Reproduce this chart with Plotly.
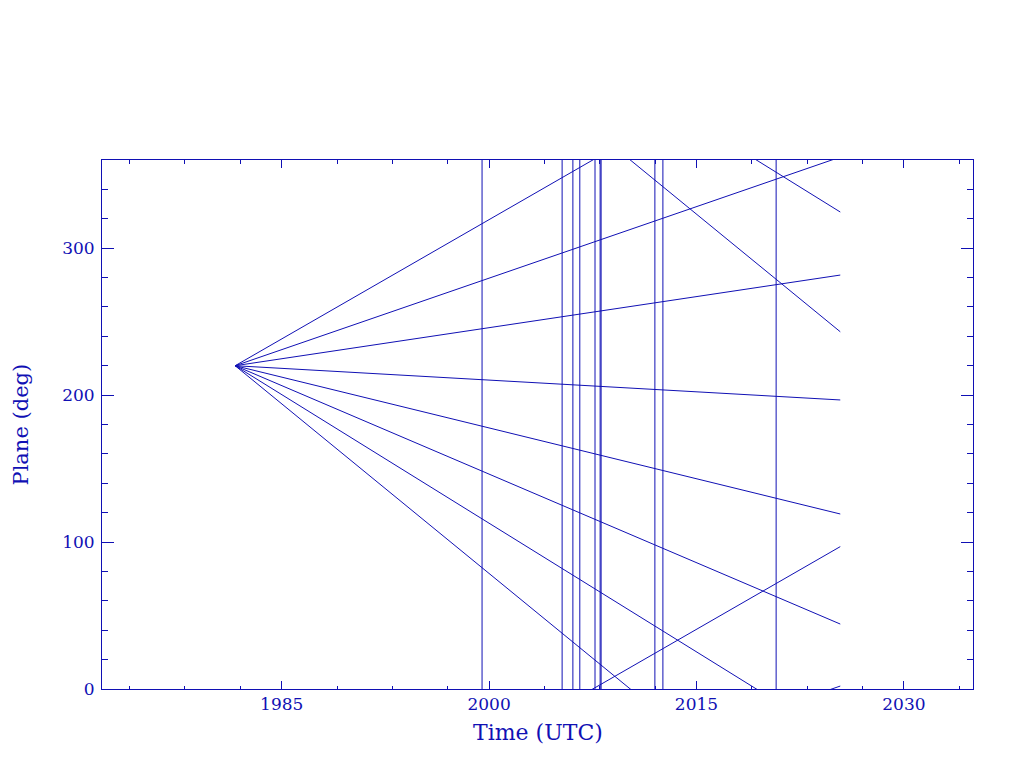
import plotly.graph_objects as go

# ---- data ----
start_year = 1981.63
end_year = 2025.40
start_plane = 220.0
# unwrapped plane angle (deg) of each track at end_year
end_planes = [456.9, 362.0, 281.7, 196.7, 119.1, 44.2, -35.4, -116.9]
# event epochs drawn as vertical lines
event_years = [1999.49, 2005.28, 2006.06, 2006.56, 2007.66, 2008.03, 2008.10,
               2011.99, 2012.57, 2020.76]
x_major = [1985, 2000, 2015, 2030]
x_minor = [1974, 1978, 1982, 1989, 1993, 1997, 2004, 2008, 2012, 2019, 2023, 2027, 2034]
x_range = [1972, 2035]
y_range = [0, 360]

COL = "#1010b4"
FONT = "DejaVu Serif"

fig = go.Figure()

# precession tracks, drawn with +-360 copies so wrap-around shows via axis clipping
xs, ys = [], []
for ep in end_planes:
    for shift in (-360, 0, 360):
        xs += [start_year, end_year, None]
        ys += [start_plane + shift, ep + shift, None]
fig.add_trace(go.Scatter(x=xs, y=ys, mode="lines",
                         line=dict(color=COL, width=1), hoverinfo="skip",
                         showlegend=False))

# vertical event lines
vx, vy = [], []
for ev in event_years:
    vx += [ev, ev, None]
    vy += [y_range[0], y_range[1], None]
fig.add_trace(go.Scatter(x=vx, y=vy, mode="lines",
                         line=dict(color=COL, width=1), hoverinfo="skip",
                         showlegend=False))

fig.update_layout(
    width=1024, height=768,
    margin=dict(l=94, r=59, t=152, b=87),
    paper_bgcolor="white", plot_bgcolor="white",
    font=dict(family=FONT, color=COL, size=17),
    showlegend=False,
    xaxis=dict(range=x_range, tickmode="array", tickvals=x_major,
               ticktext=[str(v) for v in x_major],
               ticks="inside", ticklen=8, tickwidth=1, tickcolor=COL,
               minor=dict(tickmode="array", tickvals=x_minor, ticks="inside",
                          ticklen=3.5, tickwidth=1, tickcolor=COL),
               showline=True, linecolor=COL, linewidth=1, mirror="allticks",
               showgrid=False, zeroline=False,
               tickfont=dict(family=FONT, size=17, color=COL)),
    yaxis=dict(range=y_range, tickmode="linear", tick0=0, dtick=100,
               ticks="inside", ticklen=12, tickwidth=1, tickcolor=COL,
               minor=dict(tickmode="linear", tick0=0, dtick=20, ticks="inside",
                          ticklen=6, tickwidth=1, tickcolor=COL),
               showline=True, linecolor=COL, linewidth=1, mirror="allticks",
               showgrid=False, zeroline=False, ticklabelstandoff=3,
               tickfont=dict(family=FONT, size=17, color=COL)),
    annotations=[
        dict(text="Time (UTC)", xref="paper", yref="paper", x=0.5, y=-0.083,
             xanchor="center", yanchor="middle", showarrow=False,
             font=dict(family=FONT, size=22, color=COL)),
        dict(text="Plane (deg)", xref="paper", yref="paper", x=-0.093, y=0.5,
             xanchor="center", yanchor="middle", showarrow=False, textangle=-90,
             font=dict(family=FONT, size=21, color=COL)),
    ],
)

fig.write_html("out.html")
